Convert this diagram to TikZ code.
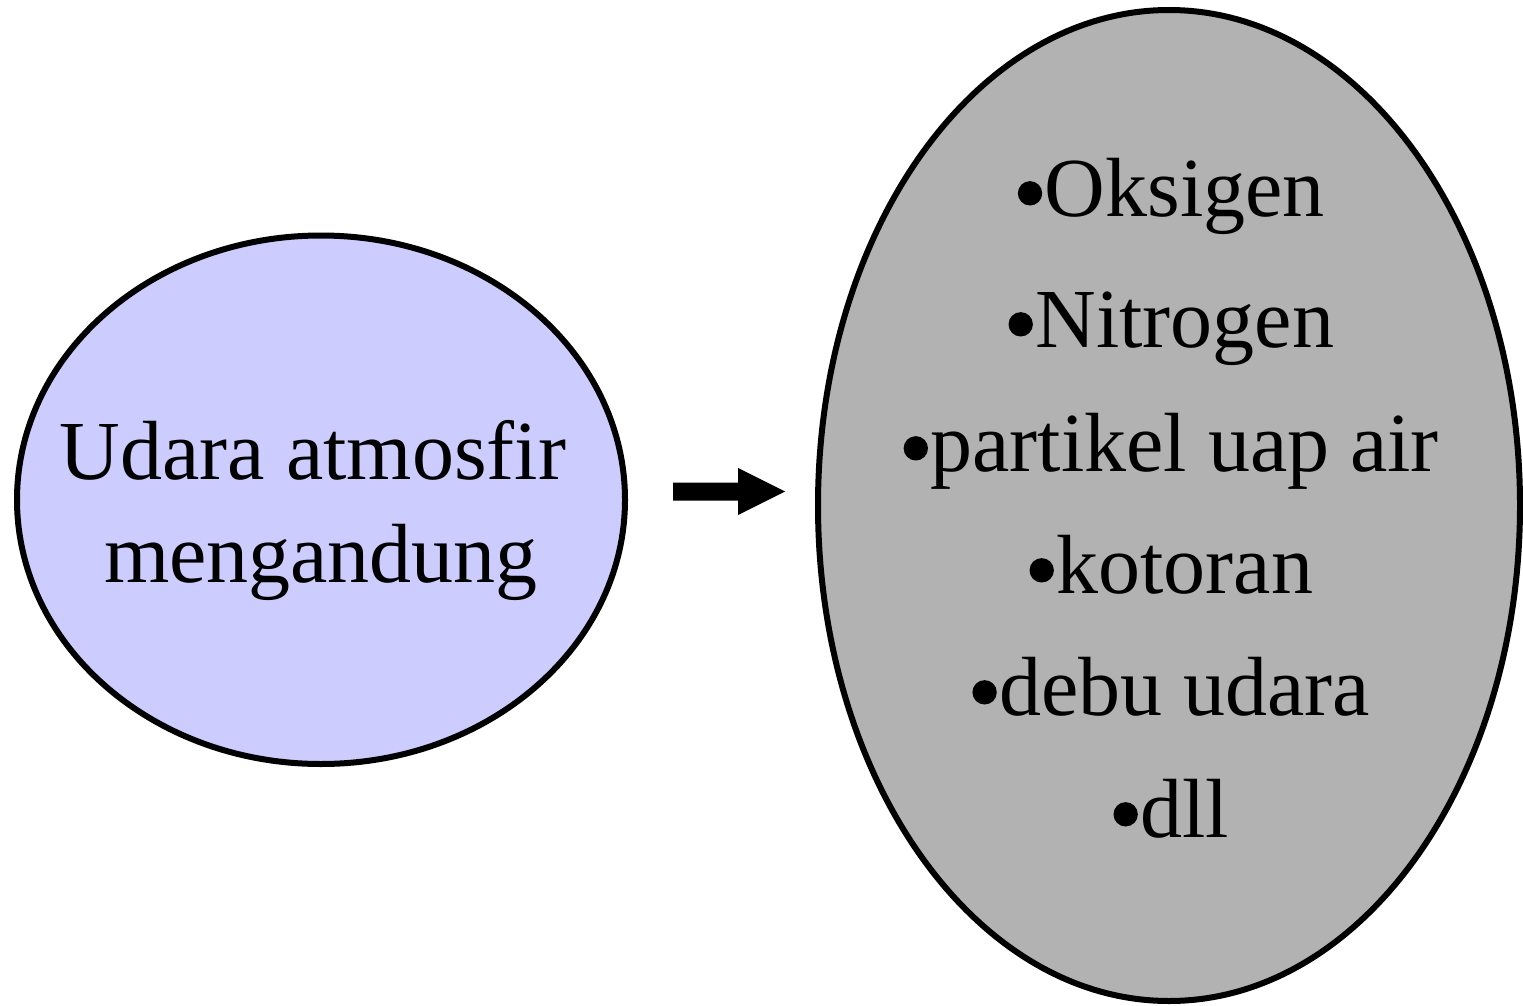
\documentclass[tikz,border=0pt]{standalone}
\usepackage{fontspec}
\setmainfont{Liberation Serif}
\usetikzlibrary{shapes.geometric}
\definecolor{airblue}{HTML}{CCCCFF}
\definecolor{mixgrey}{HTML}{B2B2B2}
% a round list bullet, sized like the Times one
\newcommand\listdot{\makebox[0.35em][c]{\raisebox{0.125em}{\tikz[x=1pt,y=1pt]\fill[black] (0,0) circle[radius=0.145em];}}}
\begin{document}
\begin{tikzpicture}[x=1pt,y=-1pt,
  blob/.style={ellipse,draw=black,line width=6pt,inner sep=0pt},
  bigtext/.style={anchor=base,inner sep=0pt,font=\fontsize{84}{100}\selectfont}]
\useasboundingbox (0,0) rectangle (1523,1006);
\fill[white] (0,0) rectangle (1523,1006);

% source: the atmosphere
\node[blob,fill=airblue,minimum width=608pt,minimum height=528.5pt] (udara) at (321,499.75) {};
\node[bigtext] (l1) at (313,479) {Udara atmosfir};
\node[bigtext] (l2) at (321,582) {mengandung};

% what it contains
\node[blob,fill=mixgrey,minimum width=702pt,minimum height=991pt] (isi) at (1169,505.5) {};
\node[bigtext] (i1) at (1170,216) {\listdot Oksigen};
\node[bigtext] (i2) at (1170,347) {\listdot Nitrogen};
\node[bigtext] (i3) at (1170,471) {\listdot partikel uap air};
\node[bigtext] (i4) at (1170,593) {\listdot kotoran};
\node[bigtext] (i5) at (1170,715) {\listdot debu udara};
\node[bigtext] (i6) at (1170,837) {\listdot dll};

% block arrow between the two ellipses
\coordinate (tail) at (673,491.5);
\fill[black] (tail) ++(0,-9) -- ++(65,0) -- ++(0,-14.5) -- ++(47,23.5)
  -- ++(-47,23.5) -- ++(0,-14.5) -- ++(-65,0) -- cycle;
\end{tikzpicture}
\end{document}
